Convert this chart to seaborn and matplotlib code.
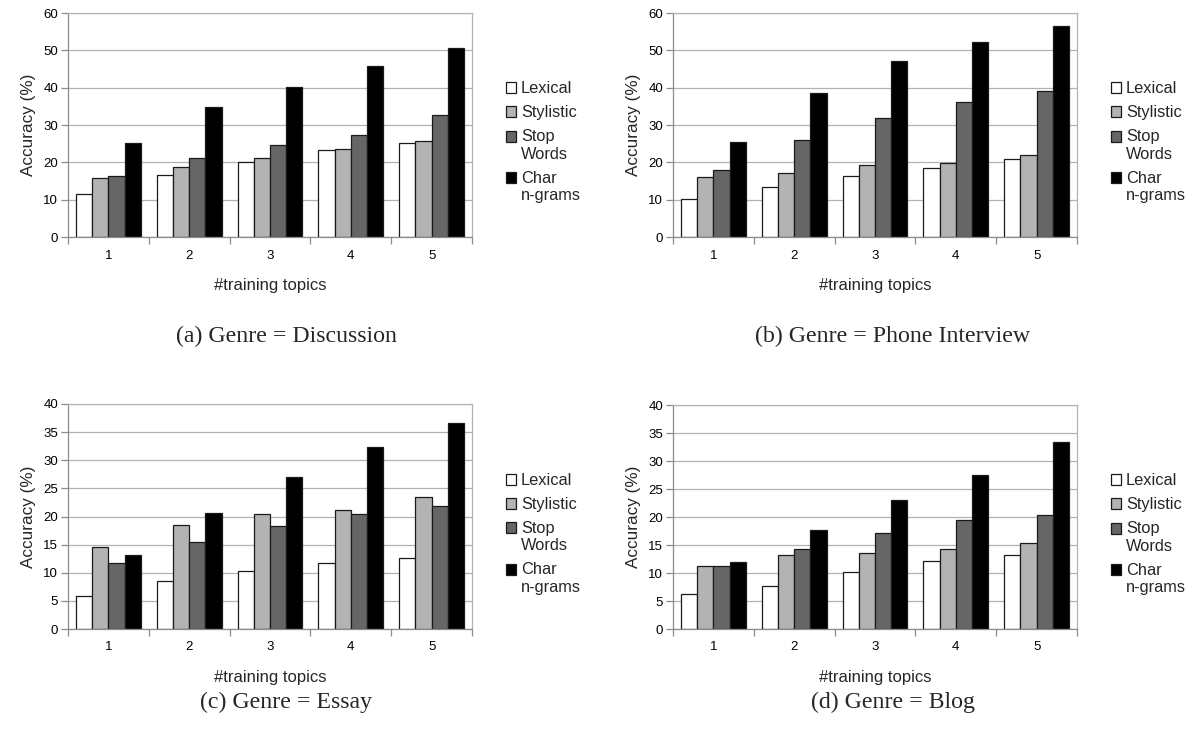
import matplotlib
matplotlib.use("Agg")
import matplotlib.pyplot as plt
import seaborn as sns
import pandas as pd
from matplotlib.patches import Patch

# ---- data ----
topics = ["1", "2", "3", "4", "5"]
features = ["Lexical", "Stylistic", "Stop\nWords", "Char\nn-grams"]
colors = ["#ffffff", "#b3b3b3", "#666666", "#000000"]

disc_lexical = [11.6, 16.7, 20.2, 23.3, 25.1]
disc_stylistic = [15.8, 18.8, 21.2, 23.6, 25.7]
disc_stop = [16.3, 21.2, 24.6, 27.4, 32.6]
disc_char = [25.3, 34.9, 40.3, 45.8, 50.6]

phone_lexical = [10.3, 13.5, 16.3, 18.5, 20.8]
phone_stylistic = [16.2, 17.2, 19.4, 19.7, 22.0]
phone_stop = [18.0, 26.0, 31.9, 36.2, 39.0]
phone_char = [25.5, 38.7, 47.2, 52.3, 56.4]

essay_lexical = [5.9, 8.5, 10.4, 11.8, 12.6]
essay_stylistic = [14.5, 18.5, 20.4, 21.2, 23.5]
essay_stop = [11.8, 15.5, 18.3, 20.5, 21.9]
essay_char = [13.2, 20.7, 27.1, 32.3, 36.6]

blog_lexical = [6.3, 7.7, 10.2, 12.1, 13.3]
blog_stylistic = [11.3, 13.3, 13.5, 14.2, 15.3]
blog_stop = [11.2, 14.3, 17.2, 19.4, 20.4]
blog_char = [12.0, 17.6, 23.0, 27.5, 33.4]

captions = ["(a) Genre = Discussion", "(b) Genre = Phone Interview",
            "(c) Genre = Essay", "(d) Genre = Blog"]
y_limits = [60, 60, 40, 40]
y_steps = [10, 10, 5, 5]

panels = [
    [disc_lexical, disc_stylistic, disc_stop, disc_char],
    [phone_lexical, phone_stylistic, phone_stop, phone_char],
    [essay_lexical, essay_stylistic, essay_stop, essay_char],
    [blog_lexical, blog_stylistic, blog_stop, blog_char],
]

sns.set_theme(style="white")
plt.rcParams["font.family"] = ["Liberation Sans", "DejaVu Sans"]

W, H = 1188, 742
fig = plt.figure(figsize=(W / 100, H / 100), dpi=100)

# axes pixel boxes: (left, top, right, bottom)
boxes = [(68, 13, 472, 237), (673, 13, 1077, 237),
         (68, 404, 472, 629), (673, 405, 1077, 629)]
cap_pos = [(286, 336), (893, 336), (286, 702), (893, 702)]

grid_c = "#b3b3b3"
axis_c = "#8c8c8c"

for i, series in enumerate(panels):
    l, t, r, b = boxes[i]
    ax = fig.add_axes([l / W, 1 - b / H, (r - l) / W, (b - t) / H])
    rows = []
    for f, vals in zip(features, series):
        for tp, v in zip(topics, vals):
            rows.append({"topics": tp, "acc": v, "feature": f})
    df = pd.DataFrame(rows)
    sns.barplot(data=df, x="topics", y="acc", hue="feature", order=topics,
                hue_order=features, palette=colors, edgecolor="#1a1a1a",
                linewidth=0.9, saturation=1, width=0.8, ax=ax, legend=False)
    ax.set_xlim(-0.5, 4.5)
    ax.set_ylim(0, y_limits[i])
    ax.set_yticks(range(0, y_limits[i] + 1, y_steps[i]))
    ax.yaxis.grid(True, color=grid_c, linewidth=0.9)
    ax.set_axisbelow(True)
    for s in ["top", "right"]:
        ax.spines[s].set_color(grid_c)
        ax.spines[s].set_linewidth(0.9)
    for s in ["left", "bottom"]:
        ax.spines[s].set_color(axis_c)
        ax.spines[s].set_linewidth(0.9)
    ax.set_xticks([x + 0.5 for x in range(-1, 5)], minor=True)
    ax.tick_params(axis="x", which="major", length=0, labelsize=9.5, pad=9,
                   colors="#000000")
    ax.tick_params(axis="x", which="minor", length=5, color=axis_c, width=0.9,
                   direction="out", bottom=True)
    ax.tick_params(axis="y", length=5, color=axis_c, width=0.9, left=True,
                   direction="out", labelsize=9.5, pad=2, colors="#000000")
    ax.set_xlabel("#training topics", fontsize=12, labelpad=12)
    ax.set_ylabel("Accuracy (%)", fontsize=12.3, labelpad=5)

    handles = [Patch(facecolor=c, edgecolor="#1a1a1a", linewidth=0.9) for c in colors]
    leg = ax.legend(handles, features, loc="center left", bbox_to_anchor=(1.083, 0.423),
                    frameon=False, fontsize=11.8, handlelength=0.65, handleheight=0.65,
                    handletextpad=0.3, labelspacing=0.55, borderpad=0, borderaxespad=0)
    # align handles of two-line labels with their first line
    for p, lab in zip(leg.get_patches(), features):
        if "\n" in lab:
            p.set_y(p.get_y() + 6.9)

    cx, cy = cap_pos[i]
    fig.text(cx / W, 1 - cy / H, captions[i], ha="center", va="center",
             fontsize=17.2, family=["Liberation Serif", "DejaVu Serif"])

fig.savefig("out.png", dpi=100)
